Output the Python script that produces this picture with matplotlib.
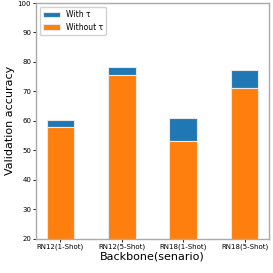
import matplotlib
matplotlib.use("Agg")
from matplotlib import pyplot as plt
import numpy as np

labels = ["RN12(1-Shot)", "RN12(5-Shot)", "RN18(1-Shot)", "RN18(5-Shot)"]
without_tau = [57.8, 75.4, 53.0, 71.1]
with_tau = [60.2, 78.1, 61.0, 77.4]

gain = [w - wo for w, wo in zip(with_tau, without_tau)]
x = np.arange(len(labels))

fig = plt.figure(figsize=(2.73, 2.73), dpi=100)
ax = fig.add_axes([0.132, 0.126, 0.853, 0.863])

ax.bar(x, gain, 0.45, bottom=without_tau, color="#1f77b4", edgecolor="#e8e8e8", linewidth=0.8, label="With τ")
ax.bar(x, without_tau, 0.45, color="#ff7f0e", edgecolor="#e8e8e8", linewidth=0.8, label="Without τ")

ax.set_ylim(20, 100)
ax.set_xticks(x)
ax.set_xticklabels(labels, fontsize=5)
ax.tick_params(axis="y", labelsize=5, length=2, width=0.6, pad=1.5)
ax.tick_params(axis="x", length=2, width=0.6, pad=1.5)
ax.set_ylabel("Validation accuracy", fontsize=8, labelpad=2)
ax.set_xlabel("Backbone(senario)", fontsize=8, labelpad=1)
for s in ax.spines.values():
    s.set_color("#aaaaaa")
    s.set_linewidth(1.0)
ax.legend(loc="upper left", fontsize=5.5, handlelength=2.2, framealpha=0.9)

fig.savefig("out.png", dpi=100)
